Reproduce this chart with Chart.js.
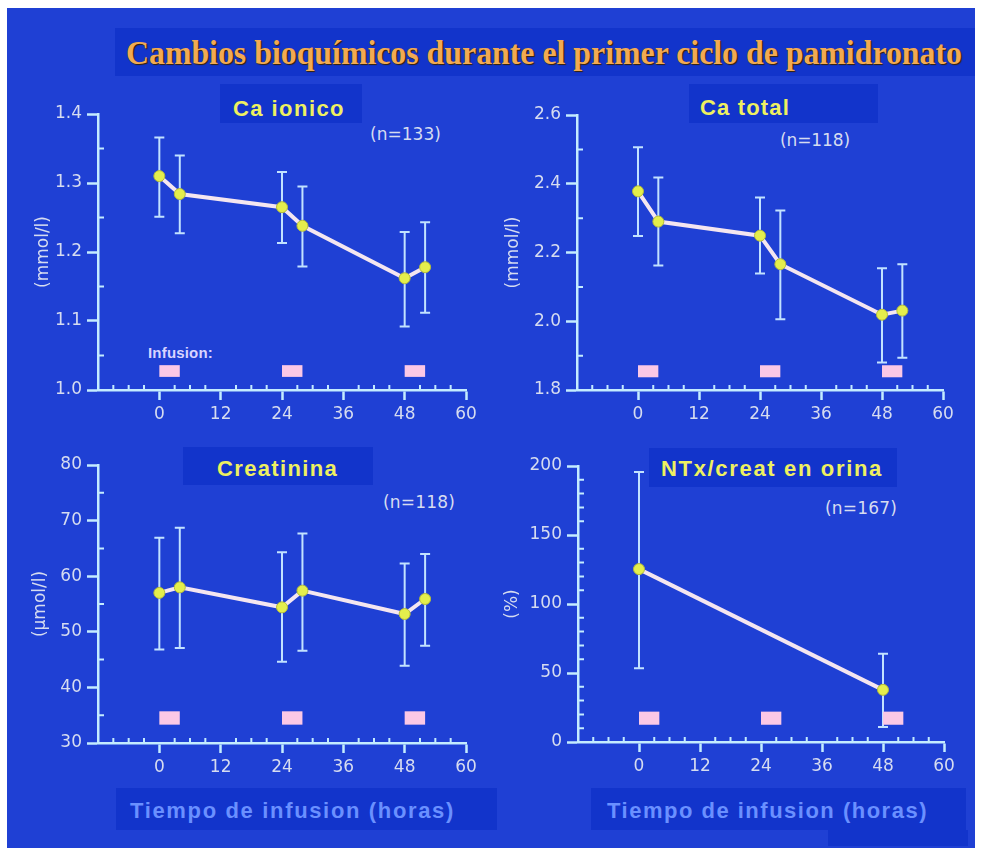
<!DOCTYPE html>
<html>
<head>
<meta charset="utf-8">
<script src="https://cdn.jsdelivr.net/npm/chart.js@4.4.1/dist/chart.umd.min.js"></script>
<style>
  body { margin: 0; background: #fff; }
  #stage { position: relative; width: 981px; height: 854px; overflow: hidden; }
  #fondo { position: absolute; left: 7px; top: 8px; width: 968px; height: 840px; background: #1f40d4; }
  .caja { position: absolute; background: #1234cb; }
  .txt { position: absolute; white-space: nowrap; line-height: 1; transform-origin: left center; }
  canvas { position: absolute; }
</style>
</head>
<body>
<div id="stage">
  <div id="fondo"></div>
  <div class="caja" style="left:115px;top:28px;width:860px;height:48px"></div>
  <div class="caja" style="left:220px;top:84px;width:142px;height:39px"></div>
  <div class="caja" style="left:689px;top:84px;width:189px;height:39px"></div>
  <div class="caja" style="left:183px;top:447px;width:190px;height:38px"></div>
  <div class="caja" style="left:649px;top:448px;width:248px;height:39px"></div>
  <div class="caja" style="left:116px;top:788px;width:381px;height:42px"></div>
  <div class="caja" style="left:591px;top:788px;width:375px;height:42px"></div>
  <div class="caja" style="left:828px;top:830px;width:140px;height:16px"></div>

  <div class="txt" data-x="126" data-base="63" data-w="836" data-modo="escala"
       style="font:bold 33px 'Liberation Serif';color:#f2aa52;text-shadow:1px 1px 1px #3a2200">Cambios bioquímicos durante el primer ciclo de pamidronato</div>

  <div class="txt titulo" data-x="233" data-base="115" data-w="112">Ca ionico</div>
  <div class="txt titulo" data-x="700" data-base="114" data-w="90">Ca total</div>
  <div class="txt titulo" data-x="217" data-base="475" data-w="121">Creatinina</div>
  <div class="txt titulo" data-x="661" data-base="475" data-w="222">NTx/creat en orina</div>

  <div class="txt nota" data-x="370" data-base="138" data-w="71">(n=133)</div>
  <div class="txt nota" data-x="780" data-base="144" data-w="70">(n=118)</div>
  <div class="txt nota" data-x="383" data-base="506" data-w="72">(n=118)</div>
  <div class="txt nota" data-x="825" data-base="512" data-w="72">(n=167)</div>

  <div class="txt" data-x="148" data-base="357" data-w="65"
       style="font:bold 15px 'Liberation Sans';color:#d8d4ff">Infusion:</div>

  <div class="txt eje" data-x="130" data-base="817" data-w="325">Tiempo de infusion (horas)</div>
  <div class="txt eje" data-x="607" data-base="817" data-w="321">Tiempo de infusion (horas)</div>

  <canvas id="g1"></canvas>
  <canvas id="g2"></canvas>
  <canvas id="g3"></canvas>
  <canvas id="g4"></canvas>
</div>

<script>
// horas de la toma de muestra
const horas = [0, 4, 24, 28, 48, 52];
const horasNtx = [0, 48];

// comienzo de cada infusion (horas) y su duracion
const infusiones = [0, 24, 48];
const duracionInfusion = 4;

// Ca ionico (mmol/l)
const caIonicoMedia = [1.31, 1.284, 1.265, 1.238, 1.162, 1.178];
const caIonicoAlto  = [1.366, 1.34, 1.316, 1.295, 1.229, 1.243];
const caIonicoBajo  = [1.251, 1.227, 1.213, 1.179, 1.092, 1.112];

// Ca total (mmol/l)
const caTotalMedia = [2.378, 2.29, 2.249, 2.166, 2.019, 2.031];
const caTotalAlto  = [2.506, 2.418, 2.36, 2.322, 2.154, 2.166];
const caTotalBajo  = [2.248, 2.162, 2.139, 2.006, 1.88, 1.894];

// Creatinina (umol/l)
const creatMedia = [57, 58, 54.4, 57.4, 53.2, 55.9];
const creatAlto  = [66.9, 68.7, 64.3, 67.7, 62.3, 64.0];
const creatBajo  = [46.8, 47.1, 44.6, 46.6, 43.9, 47.5];

// NTx/creat en orina (%)
const ntxMedia = [125.3, 37.8];
const ntxAlto  = [195.7, 63.9];
const ntxBajo  = [53.5, 10.9];

const colorEje = '#c4ecff';
const colorTexto = '#d6dcf0';
const colorLinea = '#f4e6f0';
const colorPunto = '#e4ee4c';
const colorBarra = '#c2e2ff';
const colorInfusion = '#fbc8e6';

// textos en HTML: posicion por linea base y ancho
document.querySelectorAll('.titulo').forEach(el => {
  el.style.font = "bold 22px 'Liberation Sans'"; el.style.color = '#eef060';
});
document.querySelectorAll('.nota').forEach(el => {
  el.style.font = "17px 'DejaVu Sans'"; el.style.color = colorTexto;
});
document.querySelectorAll('.eje').forEach(el => {
  el.style.font = "bold 22px 'Liberation Sans'"; el.style.color = '#6a90ff';
});
document.querySelectorAll('.txt').forEach(el => {
  const fs = parseFloat(getComputedStyle(el).fontSize);
  el.style.left = el.dataset.x + 'px';
  el.style.top = (+el.dataset.base - 0.845 * fs) + 'px';
  const w = el.getBoundingClientRect().width;
  const objetivo = +el.dataset.w;
  if (el.dataset.modo === 'escala') {
    el.style.transform = 'scaleX(' + (objetivo / w) + ')';
  } else {
    el.style.letterSpacing = ((objetivo - w) / el.textContent.length) + 'px';
  }
});

function barrasError(xs, alto, bajo) {
  return {
    id: 'barrasError',
    beforeDatasetsDraw(chart) {
      const { ctx, scales: { x, y } } = chart;
      ctx.save();
      ctx.strokeStyle = colorBarra;
      ctx.lineWidth = 2;
      ctx.beginPath();
      xs.forEach((h, i) => {
        const px = x.getPixelForValue(h);
        const y1 = y.getPixelForValue(alto[i]);
        const y2 = y.getPixelForValue(bajo[i]);
        ctx.moveTo(px, y1); ctx.lineTo(px, y2);
        ctx.moveTo(px - 5, y1); ctx.lineTo(px + 5, y1);
        ctx.moveTo(px - 5, y2); ctx.lineTo(px + 5, y2);
      });
      ctx.stroke();
      ctx.restore();
    }
  };
}

function cajasInfusion(desde, hasta) {
  return {
    id: 'cajasInfusion',
    beforeDatasetsDraw(chart) {
      const { ctx, scales: { x, y } } = chart;
      ctx.save();
      ctx.fillStyle = colorInfusion;
      infusiones.forEach(h => {
        const x1 = x.getPixelForValue(h);
        const x2 = x.getPixelForValue(h + duracionInfusion);
        const y1 = y.getPixelForValue(hasta);
        const y2 = y.getPixelForValue(desde);
        ctx.fillRect(x1, y1, x2 - x1, y2 - y1);
      });
      ctx.restore();
    }
  };
}

function marcasMenores(pasoY, pasoMayorY) {
  return {
    id: 'marcasMenores',
    afterDraw(chart) {
      const { ctx, scales: { x, y } } = chart;
      ctx.save();
      ctx.strokeStyle = colorEje;
      ctx.lineWidth = 2;
      ctx.beginPath();
      for (let v = x.min + 3; v < x.max; v += 3) {
        if (v % 12 === 0) continue;
        const px = x.getPixelForValue(v);
        ctx.moveTo(px, x.top); ctx.lineTo(px, x.top - 5);
      }
      const n = Math.round((y.max - y.min) / pasoY);
      for (let i = 1; i < n; i++) {
        const v = y.min + i * pasoY;
        const r = v / pasoMayorY;
        if (Math.abs(r - Math.round(r)) < 1e-6) continue;
        const py = y.getPixelForValue(v);
        ctx.moveTo(y.right, py); ctx.lineTo(y.right + 6, py);
      }
      ctx.stroke();
      ctx.restore();
    }
  };
}

function grafico(id, area, p) {
  const cv = document.getElementById(id);
  const left = area.L - 98, top = area.T - 30;
  const w = area.R - left + 30, h = area.B - top + 42;
  cv.width = w; cv.height = h;
  cv.style.left = left + 'px'; cv.style.top = top + 'px';
  cv.style.width = w + 'px'; cv.style.height = h + 'px';

  new Chart(cv, {
    type: 'scatter',
    data: {
      datasets: [{
        data: p.xs.map((hh, i) => ({ x: hh, y: p.media[i] })),
        showLine: true,
        borderColor: colorLinea,
        borderWidth: 4,
        pointRadius: 5.5,
        pointBackgroundColor: colorPunto,
        pointBorderColor: '#b4bc3a',
        pointBorderWidth: 1
      }]
    },
    options: {
      responsive: false,
      animation: false,
      devicePixelRatio: 1,
      layout: { padding: { left: 0, top: 30, right: 30, bottom: 0 } },
      plugins: { legend: { display: false }, tooltip: { enabled: false } },
      scales: {
        x: {
          type: 'linear', min: -12, max: 60,
          afterFit(s) { s.height = 42; },
          ticks: {
            stepSize: 12, color: colorTexto, padding: 4,
            font: { family: 'DejaVu Sans', size: 17 },
            callback: v => v < 0 ? '' : String(v)
          },
          grid: {
            drawOnChartArea: false, tickLength: 10, tickWidth: 2.5,
            tickColor: c => c.tick && c.tick.value < 0 ? 'rgba(0,0,0,0)' : colorEje
          },
          border: { color: colorEje, width: 2.5 }
        },
        y: {
          min: p.min, max: p.max,
          afterFit(s) { s.width = 98; },
          ticks: {
            stepSize: p.paso, color: colorTexto, padding: 5,
            font: { family: 'DejaVu Sans', size: 17 },
            callback: v => v.toFixed(p.dec)
          },
          grid: { drawOnChartArea: false, tickLength: 11, tickWidth: 2.5, tickColor: colorEje },
          border: { color: colorEje, width: 2.5 },
          title: {
            display: true, text: p.unidad, color: colorTexto,
            font: { family: 'DejaVu Sans', size: 17 },
            padding: { top: p.tituloPad, bottom: 0 }
          }
        }
      }
    },
    plugins: [barrasError(p.xs, p.alto, p.bajo), cajasInfusion(p.cajaDesde, p.cajaHasta), marcasMenores(p.menor, p.paso)]
  });
}

grafico('g1', { L: 98, T: 114, R: 466, B: 390 }, {
  xs: horas, media: caIonicoMedia, alto: caIonicoAlto, bajo: caIonicoBajo,
  min: 1.0, max: 1.4, paso: 0.1, menor: 0.05, dec: 1,
  unidad: '(mmol/l)', tituloPad: 33, cajaDesde: 1.019, cajaHasta: 1.036
});
grafico('g2', { L: 577, T: 115, R: 943, B: 390 }, {
  xs: horas, media: caTotalMedia, alto: caTotalAlto, bajo: caTotalBajo,
  min: 1.8, max: 2.6, paso: 0.2, menor: 0.1, dec: 1,
  unidad: '(mmol/l)', tituloPad: 24, cajaDesde: 1.837, cajaHasta: 1.872
});
grafico('g3', { L: 98, T: 465, R: 466, B: 743 }, {
  xs: horas, media: creatMedia, alto: creatAlto, bajo: creatBajo,
  min: 30, max: 80, paso: 10, menor: 5, dec: 0,
  unidad: '(µmol/l)', tituloPad: 30, cajaDesde: 33.3, cajaHasta: 35.7
});
grafico('g4', { L: 578, T: 466, R: 944, B: 742 }, {
  xs: horasNtx, media: ntxMedia, alto: ntxAlto, bajo: ntxBajo,
  min: 0, max: 200, paso: 50, menor: 10, dec: 0,
  unidad: '(%)', tituloPad: 22, cajaDesde: 12.5, cajaHasta: 22
});
</script>
</body>
</html>
